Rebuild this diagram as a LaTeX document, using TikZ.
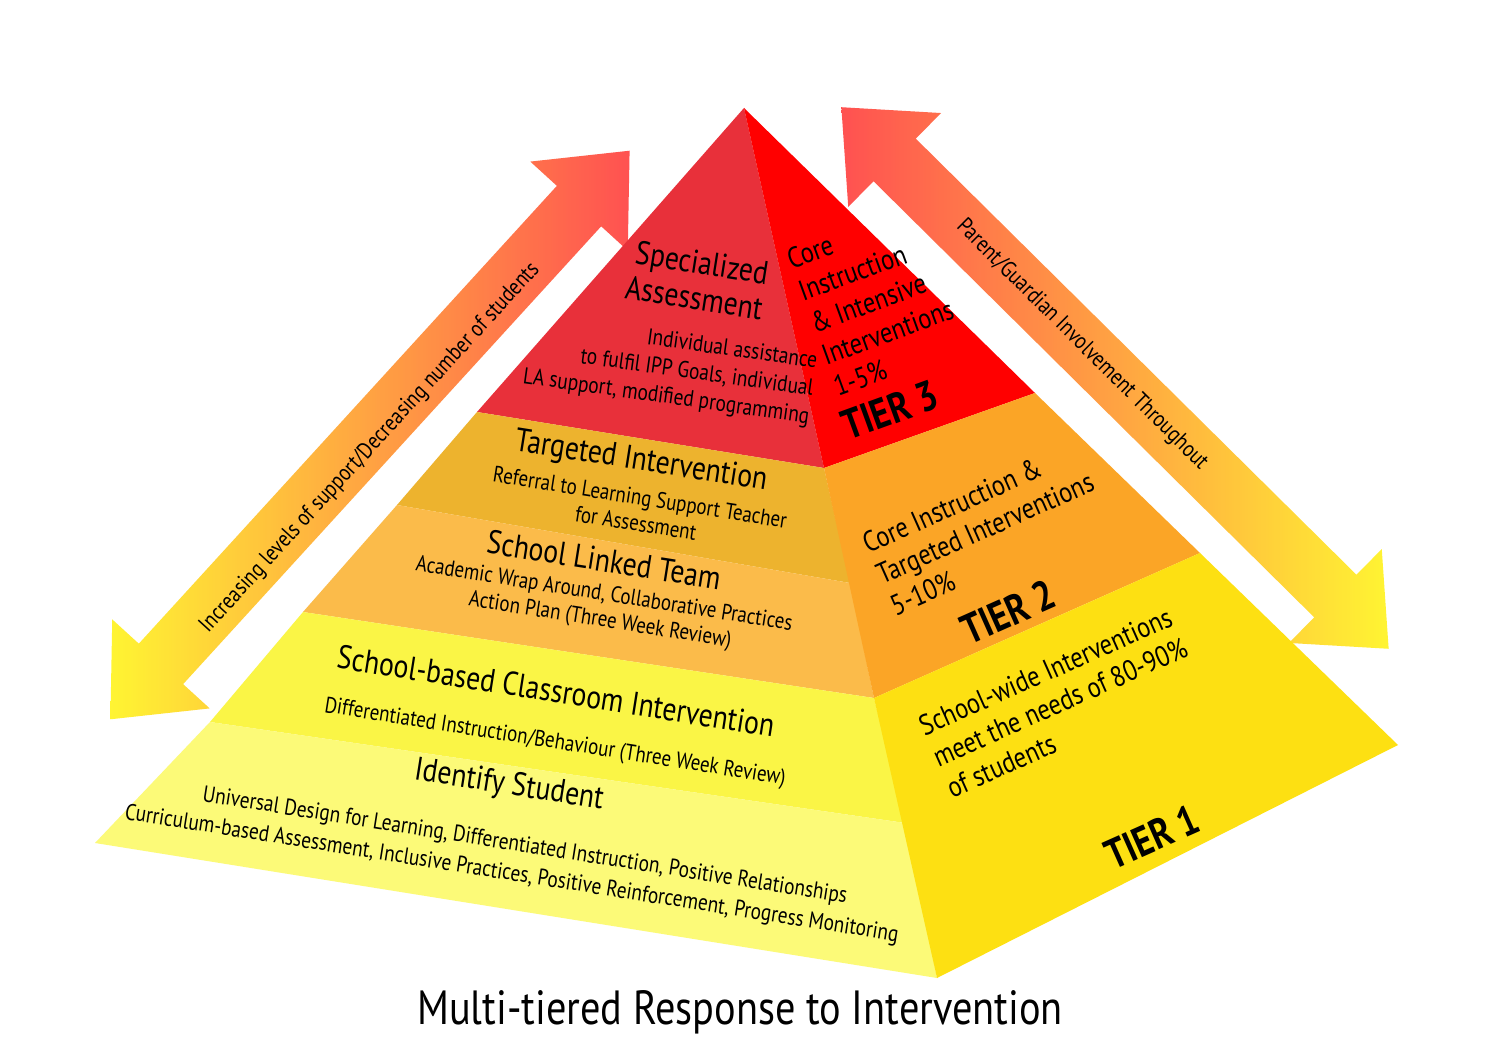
\documentclass[tikz,border=0pt]{standalone}
\usepackage{fontspec}
\setmainfont[FakeStretch=0.84]{PT Sans}
\begin{document}
\begin{tikzpicture}[x=0.5pt,y=-0.5pt,
  big/.style={font=\fontsize{16.5}{18}\selectfont, align=center, inner sep=0pt},
  small/.style={font=\fontsize{11.3}{13}\selectfont, align=center, inner sep=0pt},
  tier/.style={font=\bfseries\fontsize{21}{22}\selectfont, inner sep=0pt},
  rface/.style={font=\fontsize{14.5}{17}\selectfont, align=left, inner sep=0pt},
  arrowtxt/.style={font=\fontsize{11.5}{12}\selectfont, inner sep=0pt},
  bigarrow/.style={opacity=0.8}]
\useasboundingbox (0,0) rectangle (1500,1042);
\fill[white] (0,0) rectangle (1500,1042);
% arrows behind
\begin{scope}[shift={(370,435)}, rotate=47.6]
\shade[bigarrow, left color=yellow!90!orange, right color=red!80!pink]
 (385,0)--(310,66)--(310,30)--(-310,30)--(-310,66)--(-385,0)--(-310,-66)--(-310,-30)--(310,-30)--(310,-66)--cycle;
\end{scope}
\begin{scope}[shift={(1115,378)}, rotate=-44.7]
\shade[bigarrow, left color=red!80!pink, right color=yellow!90!orange]
 (385,0)--(310,66)--(310,30)--(-310,30)--(-310,66)--(-385,0)--(-310,-66)--(-310,-30)--(310,-30)--(310,-66)--cycle;
\end{scope}
% pyramid left face bands
\fill[fill={rgb,255:red,232;green,48;blue,58}] (744,108)--(477,412)--(824,468)--cycle;
\fill[fill={rgb,255:red,237;green,179;blue,46}] (477,412)--(397,505)--(850,583)--(824,468)--cycle;
\fill[fill={rgb,255:red,251;green,187;blue,74}] (397,505)--(303,612)--(874,698)--(850,583)--cycle;
\fill[fill={rgb,255:red,250;green,245;blue,70}] (303,612)--(210,722)--(905,823)--(874,698)--cycle;
\fill[fill={rgb,255:red,252;green,250;blue,120}] (210,722)--(95,843)--(937,978)--(905,823)--cycle;
% right face
\fill[fill={rgb,255:red,255;green,0;blue,0}] (744,108)--(824,468)--(1035,393)--cycle;
\fill[fill={rgb,255:red,251;green,165;blue,38}] (824,468)--(874,698)--(1200,553)--(1035,393)--cycle;
\fill[fill={rgb,255:red,253;green,224;blue,18}] (874,698)--(937,978)--(1398,745)--(1200,553)--cycle;
% texts
\node[big, rotate=-9, align=right] (sa) at (697,280) {Specialized\\Assessment};
\node[small, rotate=-8, font=\fontsize{11.5}{14}\selectfont, align=right] (sat) at (670,370) {Individual assistance\\to fulfil IPP Goals, individual\\LA support, modified programming};
\node[rface, rotate=20] (t3) at (876,300) {Core\\Instruction\\\& Intensive\\Interventions\\1-5\%};
\node[tier, rotate=20] (t3l) at (890,410) {TIER 3};
\node[big, rotate=-9] (ti) at (641,462) {Targeted Intervention};
\node[small, rotate=-9] (tit) at (638,510) {Referral to Learning Support Teacher\\for Assessment};
\node[big, rotate=-9] (sl) at (604,560) {School Linked Team};
\node[small, rotate=-9] (slt) at (602,608) {Academic Wrap Around, Collaborative Practices\\Action Plan (Three Week Review)};
\node[big, rotate=-9] (sb) at (556,691) {School-based Classroom Intervention};
\node[small, rotate=-9] (sbt) at (555,743) {Differentiated Instruction/Behaviour (Three Week Review)};
\node[big, rotate=-9] (is) at (509,786) {Identify Student};
\node[small, rotate=-9, align=left, font=\fontsize{11.5}{15}\selectfont] (ist) at (514,860) {\hspace*{37pt}Universal Design for Learning, Differentiated Instruction, Positive Relationships\\Curriculum-based Assessment, Inclusive Practices, Positive Reinforcement, Progress Monitoring};
\node[rface, rotate=24] (t2) at (985,528) {Core Instruction \&\\Targeted Interventions\\5-10\%};
\node[tier, rotate=24] (t2l) at (1008,612) {TIER 2};
\node[rface, rotate=24] (t1) at (1060,702) {School-wide Interventions\\meet the needs of 80-90\%\\of students};
\node[tier, rotate=24] (t1l) at (1152,837) {TIER 1};
\node[arrowtxt, rotate=47.6] (la) at (370,448) {Increasing levels of support/Decreasing number of students};
\node[arrowtxt, rotate=-44.8] (ra) at (1082,345) {Parent/Guardian Involvement Throughout};
\node[font=\fontsize{24}{25}\selectfont, inner sep=0pt] (title) at (740,1012) {Multi-tiered Response to Intervention};
\end{tikzpicture}
\end{document}
